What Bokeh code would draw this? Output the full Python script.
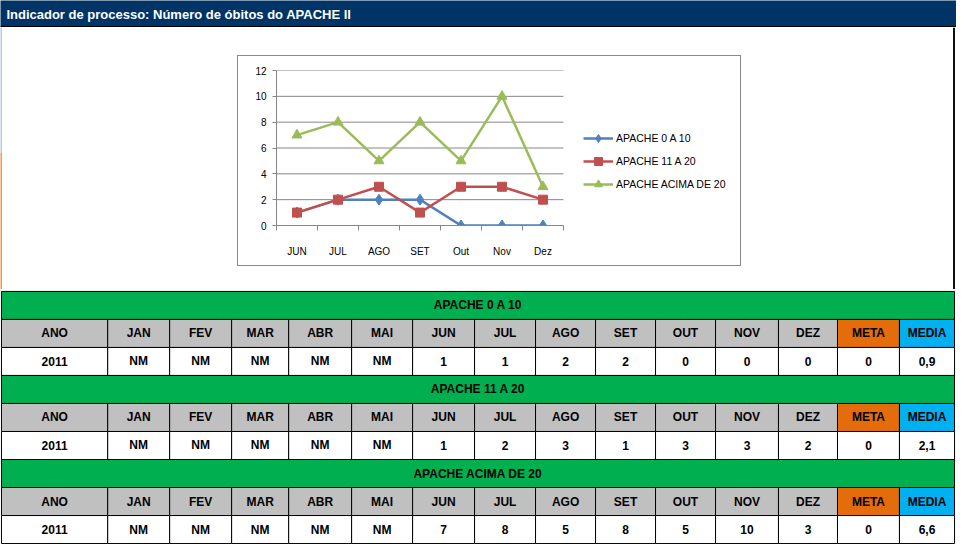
from bokeh.plotting import figure
from bokeh.models import Range1d, Legend, LegendItem, ColumnDataSource, Spacer, FixedTicker
from bokeh.layouts import column, row
from bokeh.core.properties import value
from bokeh.embed import file_html
from bokeh.resources import INLINE

# ---------------- data ----------------
title = "Indicador de processo: Número de óbitos do APACHE II"

chart_months = ["JUN", "JUL", "AGO", "SET", "Out", "Nov", "Dez"]
apache_0_10 = [1, 2, 2, 2, 0, 0, 0]
apache_11_20 = [1, 2, 3, 1, 3, 3, 2]
apache_acima_20 = [7, 8, 5, 8, 5, 10, 3]
series_names = ["APACHE 0 A 10", "APACHE 11 A 20", "APACHE ACIMA DE 20"]
y_ticks = [0, 2, 4, 6, 8, 10, 12]

table_titles = ["APACHE 0 A 10", "APACHE 11 A 20", "APACHE ACIMA DE 20"]
table_columns = ["ANO", "JAN", "FEV", "MAR", "ABR", "MAI", "JUN", "JUL",
                 "AGO", "SET", "OUT", "NOV", "DEZ", "META", "MEDIA"]
table_year = "2011"
table_0_10 = ["NM", "NM", "NM", "NM", "NM", "1", "1", "2", "2", "0", "0", "0"]
table_11_20 = ["NM", "NM", "NM", "NM", "NM", "1", "2", "3", "1", "3", "3", "2"]
table_acima_20 = ["NM", "NM", "NM", "NM", "NM", "7", "8", "5", "8", "5", "10", "3"]
table_meta = ["0", "0", "0"]
table_media = ["0,9", "2,1", "6,6"]

# ---------------- styles / layout ----------------
FONT = "Liberation Sans"
BLUE, RED, GREEN = "#4F81BD", "#C0504D", "#9BBB59"
NAVY = "#003366"
BAND_GREEN = "#00B050"
HEAD_GRAY = "#C0C0C0"
META_ORANGE = "#E46C0A"
MEDIA_BLUE = "#00B0F0"
AX_GRAY = "#868686"
W = 956

def blank(fig):
    fig.min_border = 0
    fig.outline_line_color = None
    fig.grid.visible = False

# ---- header ----
head = figure(width=W, height=27, x_range=Range1d(0, 972), y_range=Range1d(28, 0),
              toolbar_location=None, output_backend="svg",
              x_axis_location=None, y_axis_location=None)
blank(head)
head.background_fill_color = NAVY
head.border_fill_color = NAVY
head.text(x=[6], y=[14.5], text=[title], text_color="white",
          text_font=value(FONT), text_font_style="bold", text_font_size="13px",
          text_baseline="middle", text_align="left")
head.segment(x0=[0], y0=[27.5], x1=[972], y1=[27.5], line_color="black", line_width=2)

# ---- middle: chart ----
MID_H = 262
left_w, chart_w, chart_h = 237, 506, 213
right_w = W - left_w - chart_w

leftfig = figure(width=left_w, height=MID_H, x_range=Range1d(0, left_w), y_range=Range1d(MID_H, 0),
                 toolbar_location=None, output_backend="svg",
                 x_axis_location=None, y_axis_location=None)
blank(leftfig)
leftfig.segment(x0=[0.5], y0=[0], x1=[0.5], y1=[125], line_color="#B8CCE4", line_width=2)
leftfig.segment(x0=[0.5], y0=[125], x1=[0.5], y1=[MID_H], line_color="#F79646", line_width=2)

rightfig = figure(width=right_w, height=MID_H, x_range=Range1d(0, right_w), y_range=Range1d(MID_H, 0),
                  toolbar_location=None, output_backend="svg",
                  x_axis_location=None, y_axis_location=None)
blank(rightfig)
rightfig.segment(x0=[right_w - 2.5], y0=[0], x1=[right_w - 2.5], y1=[MID_H], line_color="#111111", line_width=2)

# chart frame covers plot + legend area; months occupy the first 7 slots (41 px each)
n = len(chart_months)
xs = list(range(n))
CAT_PX = 41
cw, ch = chart_w - 2, chart_h - 2
b_left, b_right, b_top, b_bottom = 38, 4, 14, 42
frame_w = cw - b_left - b_right
x_end = -0.5 + frame_w / CAT_PX

chart = figure(width=cw, height=ch,
               x_range=Range1d(-0.5, x_end), y_range=Range1d(0, 12),
               toolbar_location=None, output_backend="svg",
               min_border_left=b_left, min_border_right=b_right,
               min_border_top=b_top, min_border_bottom=b_bottom,
               styles={"border": "1px solid #888888"})
chart.outline_line_color = None
chart.grid.visible = False
# horizontal gridlines only over the month slots
chart.segment(x0=[-0.5] * len(y_ticks), x1=[n - 0.5] * len(y_ticks), y0=y_ticks, y1=y_ticks,
              line_color=AX_GRAY, line_width=1)

chart.yaxis.ticker = FixedTicker(ticks=y_ticks)
chart.xaxis.ticker = FixedTicker(ticks=xs, minor_ticks=[i - 0.5 for i in range(n + 1)])
chart.xaxis.major_label_overrides = {i: m for i, m in enumerate(chart_months)}
chart.xaxis.bounds = (-0.5, n - 0.5)
for ax in (chart.xaxis[0], chart.yaxis[0]):
    ax.axis_line_color = AX_GRAY
    ax.major_label_text_font = FONT
    ax.major_label_text_font_size = "10px"
    ax.major_label_text_color = "black"
chart.yaxis.minor_tick_line_color = None
chart.yaxis.major_tick_line_color = AX_GRAY
chart.yaxis.major_tick_in = 0
chart.yaxis.major_tick_out = 4
chart.yaxis.major_label_standoff = 6
chart.xaxis.major_tick_line_color = None
chart.xaxis.minor_tick_line_color = AX_GRAY
chart.xaxis.minor_tick_in = 0
chart.xaxis.minor_tick_out = 5
chart.xaxis.major_label_standoff = 14

src = ColumnDataSource(dict(x=xs, a=apache_0_10, b=apache_11_20, c=apache_acima_20))
l1 = chart.line("x", "a", source=src, line_color=BLUE, line_width=2.5)
s1 = chart.scatter("x", "a", source=src, marker="diamond", size=11, fill_color=BLUE, line_color=BLUE)
l2 = chart.line("x", "b", source=src, line_color=RED, line_width=2.5)
s2 = chart.scatter("x", "b", source=src, marker="square", size=9, fill_color=RED, line_color=RED)
l3 = chart.line("x", "c", source=src, line_color=GREEN, line_width=2.5)
s3 = chart.scatter("x", "c", source=src, marker="triangle", size=10, fill_color=GREEN, line_color=GREEN)

legend = Legend(items=[LegendItem(label=series_names[0], renderers=[l1, s1]),
                       LegendItem(label=series_names[1], renderers=[l2, s2]),
                       LegendItem(label=series_names[2], renderers=[l3, s3])],
                location=(307, 31), border_line_color=None, background_fill_alpha=0,
                padding=0, margin=0, spacing=3, glyph_width=30, glyph_height=20,
                label_height=20, label_standoff=3,
                label_text_font=FONT, label_text_font_size="10.5px", label_text_color="black")
chart.add_layout(legend)

mid = row(leftfig,
          column(Spacer(width=chart_w, height=28), chart, Spacer(width=chart_w, height=MID_H - 28 - chart_h)),
          rightfig)

# ---- tables ----
TAB_H = 544 - 27 - MID_H
col_edges = [1, 109, 172, 235, 293, 357, 419, 482, 544, 605, 666, 727, 791, 851, 914, 970]
tab = figure(width=W, height=TAB_H, x_range=Range1d(0, 972), y_range=Range1d(560, 296),
             toolbar_location=None, output_backend="svg",
             x_axis_location=None, y_axis_location=None)
blank(tab)

rows_values = [table_0_10, table_11_20, table_acima_20]
lefts = col_edges[:-1]
rights = col_edges[1:]
centers = [(a + b) / 2 for a, b in zip(lefts, rights)]
ncol = len(table_columns)
head_colors = [HEAD_GRAY] * (ncol - 2) + [META_ORANGE, MEDIA_BLUE]
text_kw = dict(text_font=value(FONT), text_font_style="bold", text_font_size="12px",
               text_align="center", text_baseline="middle", text_color="black")

for i in range(3):
    top = 298 + 87 * i
    tab.quad(left=[col_edges[0]], right=[col_edges[-1]], top=[top], bottom=[top + 29],
             fill_color=BAND_GREEN, line_color="black", line_width=1)
    tab.text(x=[(col_edges[0] + col_edges[-1]) / 2], y=[top + 14.5], text=[table_titles[i]], **text_kw)
    tab.quad(left=lefts, right=rights, top=[top + 29] * ncol, bottom=[top + 58] * ncol,
             fill_color=head_colors, line_color="black", line_width=1)
    tab.text(x=centers, y=[top + 43.5] * ncol, text=table_columns, **text_kw)
    vals = [table_year] + rows_values[i] + [table_meta[i], table_media[i]]
    tab.quad(left=lefts, right=rights, top=[top + 58] * ncol, bottom=[top + 87] * ncol,
             fill_color="white", line_color="black", line_width=1)
    tab.text(x=centers, y=[top + 72.5] * ncol, text=vals, **text_kw)

layout = column(head, mid, tab)
open("out.html", "w").write(file_html(layout, INLINE))
